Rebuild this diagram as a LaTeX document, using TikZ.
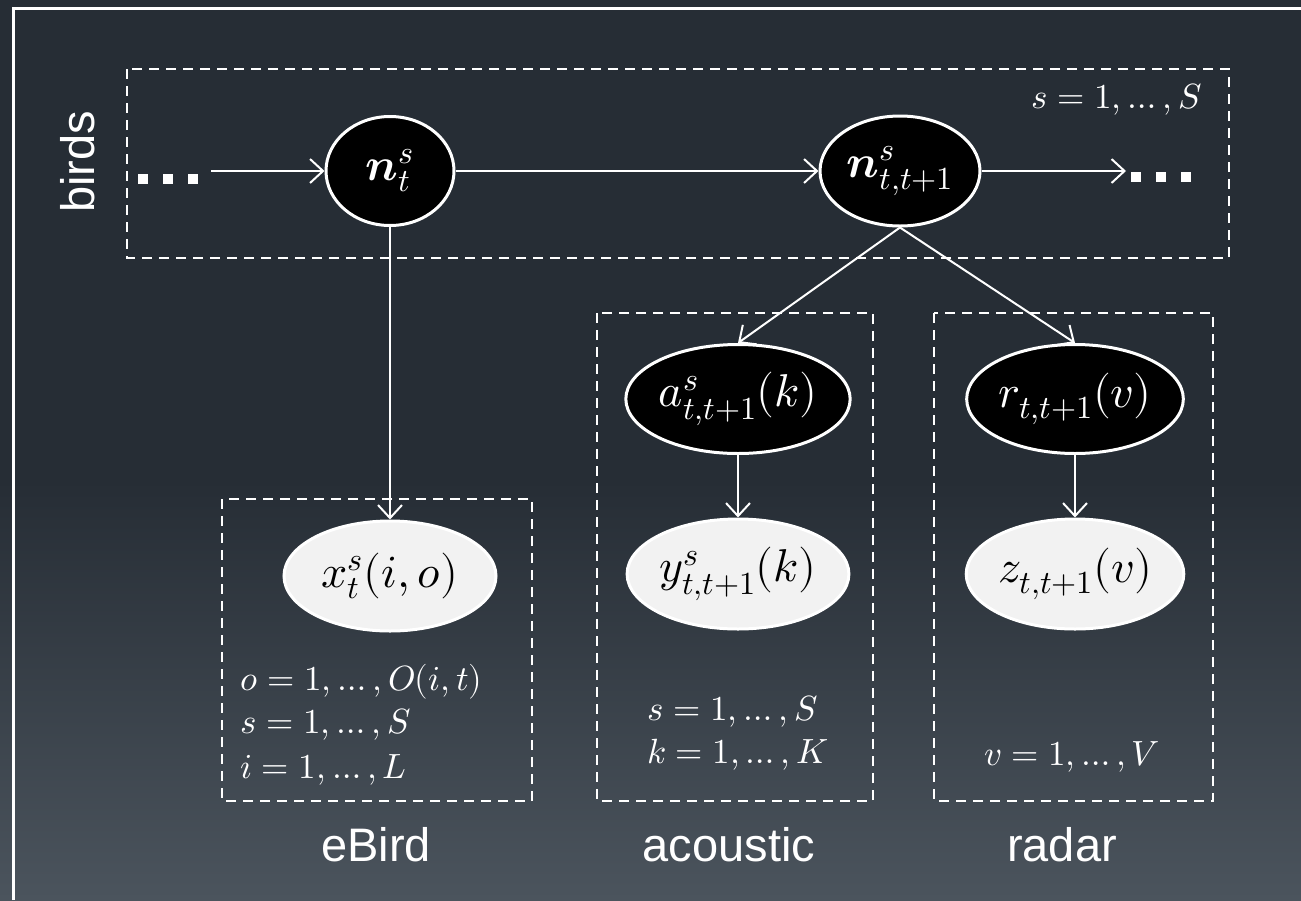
\documentclass[tikz,border=0pt]{standalone}
\usepackage{amsmath}
\usepackage{fontspec}
\usepackage{unicode-math}
\setmathfont{Latin Modern Math}
\newfontfamily\labelfont{Liberation Sans}
\usetikzlibrary{shapes.geometric,arrows.meta}
\definecolor{bgtop}{HTML}{262D35}
\definecolor{bgbot}{HTML}{4B545D}
\definecolor{obsfill}{HTML}{F2F2F2}
\tikzset{
  latent/.style={ellipse,draw=white,line width=3pt,fill=black,text=white,inner sep=0pt,font=\fontsize{46}{52}\selectfont},
  observed/.style={ellipse,draw=white,line width=3pt,fill=obsfill,text=black,inner sep=0pt,font=\fontsize{46}{52}\selectfont},
  plate/.style={draw=white,dashed,line width=2.5pt,dash pattern=on 10pt off 7pt},
  conn/.style={draw=white,line width=2pt,-{Straight Barb[length=13pt,width=24pt,line width=2pt]}},
  platetext/.style={text=white,inner sep=0pt,font=\fontsize{35}{43}\selectfont},
  grouplabel/.style={text=white,inner sep=0pt,font=\labelfont\fontsize{47}{52}\selectfont},
  dots/.style={inner sep=0pt,text=white}
}
\newcommand{\sq}{\textcolor{white}{\rule{10pt}{10pt}}}
\begin{document}
\begin{tikzpicture}[x=1pt,y=-1pt]
\useasboundingbox (0,0) rectangle (1301,900);
\fill[bgtop] (0,0) rectangle (1301,900);
\shade[top color=bgtop,bottom color=bgbot] (0,480) rectangle (1301,900);
\draw[white,line width=3pt] (13,900) -- (13,8) -- (1301,8);

% plates
\draw[plate] (127,69) rectangle (1229,258);
\draw[plate] (222,499) rectangle (532,801);
\draw[plate] (597,313) rectangle (873,801);
\draw[plate] (934,313) rectangle (1213,801);

% labels
\node[grouplabel,rotate=90] (lbirds) at (78,162) {birds};
\node[grouplabel] (lebird) at (376,845) {eBird};
\node[grouplabel] (lacoustic) at (729,845) {acoustic};
\node[grouplabel] (lradar) at (1062,845) {radar};

% nodes
\node[latent,minimum width=128pt,minimum height=109pt] (nt) at (390,171) {$\symbfit{n}_t^s$};
\node[latent,minimum width=160pt,minimum height=110pt] (ntt) at (900,171) {$\symbfit{n}_{t,t+1}^s$};
\node[latent,minimum width=220pt,minimum height=109pt] (a) at (738,399) {$a_{t,t+1}^s(k)$};
\node[latent,minimum width=211pt,minimum height=109pt] (r) at (1075,399) {$r_{t,t+1}(v)$};
\node[observed,minimum width=212pt,minimum height=110pt] (x) at (390,576) {$x_t^s(i,o)$};
\node[observed,minimum width=221pt,minimum height=110pt] (y) at (738,574) {$y_{t,t+1}^s(k)$};
\node[observed,minimum width=208pt,minimum height=110pt] (z) at (1075,574) {$z_{t,t+1}(v)$};

\node[dots,anchor=west] (dl) at (138,179) {\sq\hspace{15pt}\sq\hspace{15pt}\sq};
\node[dots,anchor=west] (dr) at (1131,177) {\sq\hspace{15pt}\sq\hspace{15pt}\sq};

% plate texts
\node[platetext,anchor=base east] (ts) at (1202,108) {$s=1,\ldots,S$};
\node[platetext,anchor=base west] (te1) at (240,690) {$o=1,\ldots,O(i,t)$};
\node[platetext,anchor=base west] (te2) at (240,733) {$s=1,\ldots,S$};
\node[platetext,anchor=base west] (te3) at (240,778) {$i=1,\ldots,L$};
\node[platetext,anchor=base west] (ta1) at (647,720) {$s=1,\ldots,S$};
\node[platetext,anchor=base west] (ta2) at (647,763) {$k=1,\ldots,K$};
\node[platetext,anchor=base] (tr1) at (1072,765) {$v=1,\ldots,V$};

% connectors
\draw[conn,shorten <=13pt] (dl.east |- nt.west) -- (nt.west);
\draw[conn] (nt) -- (ntt);
\draw[conn,shorten >=5pt] (ntt.east) -- (dr.west |- ntt.east);
\draw[conn] (nt) -- (x);
\draw[conn] (ntt.south) -- (a.north);
\draw[conn] (ntt.south) -- (r.north);
\draw[conn] (a) -- (y);
\draw[conn] (r) -- (z);
\end{tikzpicture}
\end{document}
